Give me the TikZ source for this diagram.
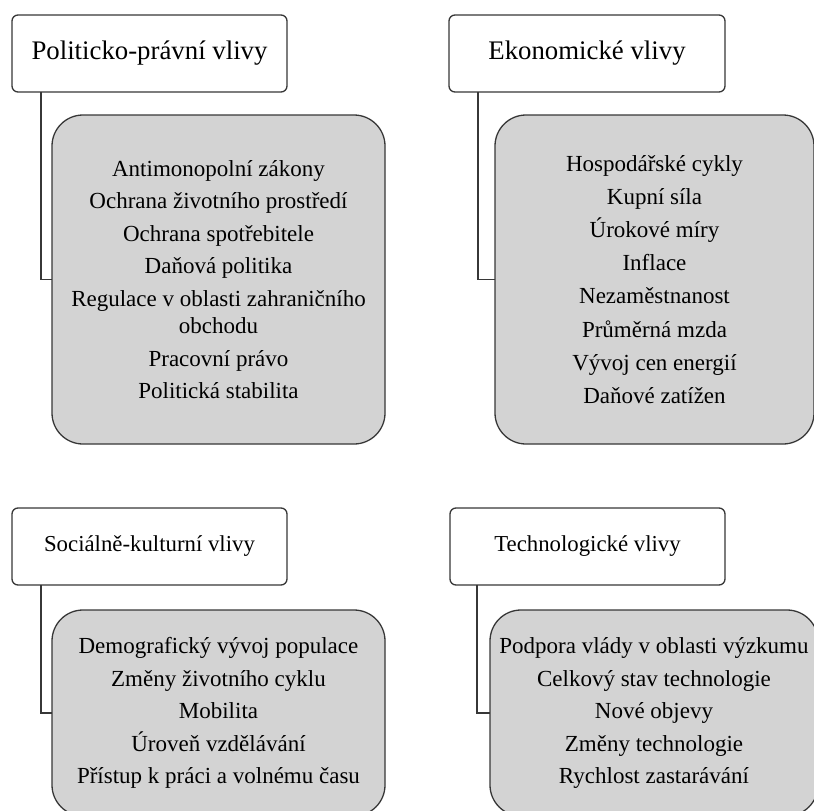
\documentclass[tikz,border=0pt]{standalone}
\usepackage{fontspec}
\setmainfont{Liberation Serif}
\definecolor{linec}{RGB}{55,55,55}
\definecolor{grayf}{RGB}{211,211,211}
\begin{document}
\begin{tikzpicture}[x=1pt,y=-1pt,
  hdr/.style={draw=linec, line width=1.3pt, fill=white, rounded corners=6pt, inner sep=0pt, outer sep=0pt, minimum width=275pt, minimum height=77pt, anchor=north west},
  hdrbig/.style={hdr, font=\fontsize{26.8}{30}\selectfont},
  hdrsmall/.style={hdr, font=\fontsize{22.8}{27}\selectfont},
  grp/.style={draw=linec, line width=1.3pt, fill=grayf, rounded corners=31pt, inner sep=0pt, outer sep=0pt, align=center, anchor=north west, font=\fontsize{23}{32.5}\selectfont},
  conn/.style={draw=linec, line width=1.3pt}]
\useasboundingbox (0,0) rectangle (814,811);

% top left
\node[hdrbig] (h1) at (12,15) {Politicko-právní vlivy};
\node[grp, minimum width=333pt, minimum height=329pt] (g1) at (52,115)
  {Antimonopolní zákony\\Ochrana životního prostředí\\Ochrana spotřebitele\\Daňová politika\\Regulace v oblasti zahraničního\\[-5pt]obchodu\\Pracovní právo\\Politická stabilita};
\draw[conn] (h1.south west) ++(29,0) |- (g1.west);

% top right
\node[hdrbig, minimum width=276pt] (h2) at (449,15) {Ekonomické vlivy};
\node[grp, minimum width=319pt, minimum height=329pt, font=\fontsize{23}{33.1}\selectfont] (g2) at (495,115)
  {Hospodářské cykly\\Kupní síla\\Úrokové míry\\Inflace\\Nezaměstnanost\\Průměrná mzda\\Vývoj cen energií\\Daňové zatížen};
\draw[conn] (h2.south west) ++(29,0) |- (g2.west);

% bottom left
\node[hdrsmall] (h3) at (12,508) {Sociálně-kulturní vlivy};
\node[grp, minimum width=333pt, minimum height=206pt] (g3) at (52,610)
  {Demografický vývoj populace\\Změny životního cyklu\\Mobilita\\Úroveň vzdělávání\\Přístup k práci a volnému času};
\draw[conn] (h3.south west) ++(29,0) |- (g3.west);

% bottom right
\node[hdrsmall] (h4) at (450,508) {Technologické vlivy};
\node[grp, minimum width=328pt, minimum height=206pt] (g4) at (490,610)
  {Podpora vlády v oblasti výzkumu\\Celkový stav technologie\\Nové objevy\\Změny technologie\\Rychlost zastarávání};
\draw[conn] (h4.south west) ++(27,0) |- (g4.west);
\end{tikzpicture}
\end{document}
